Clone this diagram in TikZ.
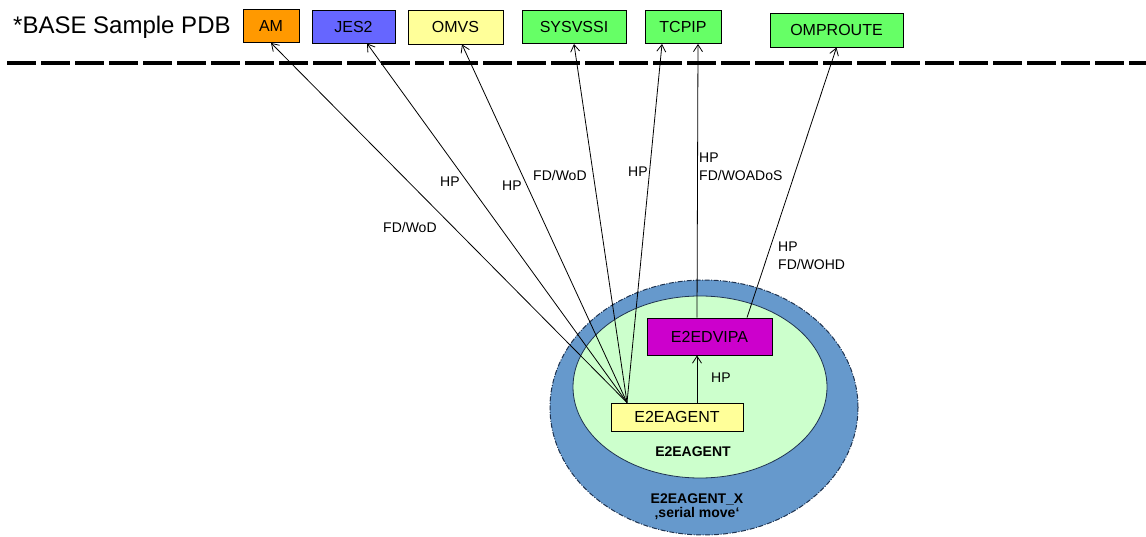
\documentclass[tikz,border=0pt]{standalone}
\usepackage{fontspec}
\setmainfont{Liberation Sans}
\usepackage{xcolor}
\usetikzlibrary{arrows.meta, shapes.geometric}

\definecolor{amorange}{HTML}{FF9900}
\definecolor{jesblue}{HTML}{6666FF}
\definecolor{paleyellow}{HTML}{FFFF99}
\definecolor{boxgreen}{HTML}{66FF66}
\definecolor{vipamagenta}{HTML}{CC00CC}
\definecolor{outerblue}{HTML}{6699CC}
\definecolor{innergreen}{HTML}{CCFFCC}
\definecolor{rimdark}{HTML}{1F3350}

\begin{document}
\begin{tikzpicture}[
        x=1pt, y=-1pt,
        pdbbox/.style={draw, line width=0.9pt, rectangle, inner sep=0pt, font=\fontsize{16}{18}\selectfont},
        lbl/.style={inner sep=0pt, anchor=west, align=left, font=\fontsize{14}{18}\selectfont},
        elbl/.style={inner sep=0pt, align=center, font=\fontsize{14}{14}\selectfont\bfseries},
        arrow/.style={-{Straight Barb[length=7pt, width=9pt]}, line width=0.8pt}
    ]
    \useasboundingbox (0,0) rectangle (1146,537);

    % Header
    \node[inner sep=0pt, anchor=west, font=\fontsize{24}{26}\selectfont] (title) at (13,27) {*BASE Sample PDB};
    \node[pdbbox, fill=amorange, minimum width=56, minimum height=33] (am) at (271,26) {AM};
    \node[pdbbox, fill=jesblue, minimum width=83, minimum height=33] (jes) at (353.5,26.5) {JES2};
    \node[pdbbox, fill=paleyellow, minimum width=95, minimum height=34] (omvs) at (455.5,27) {OMVS};
    \node[pdbbox, fill=boxgreen, minimum width=104, minimum height=33] (sysvssi) at (574,27) {SYSVSSI};
    \node[pdbbox, fill=boxgreen, minimum width=76, minimum height=33] (tcpip) at (683,27) {TCPIP};
    \node[pdbbox, fill=boxgreen, minimum width=133, minimum height=34] (omproute) at (836.5,30) {OMPROUTE};

    \draw[line width=4pt, dash pattern=on 29pt off 5pt] (7,63) -- (1146,63);

    % Ellipses
    \node[ellipse, draw=rimdark, line width=1pt, dash pattern=on 5pt off 1.5pt on 1pt off 1.5pt,
          fill=outerblue, inner sep=0pt, minimum width=308, minimum height=255] (outer) at (704,407.5) {};
    \node[ellipse, draw=rimdark, line width=0.8pt, fill=innergreen, inner sep=0pt,
          minimum width=254, minimum height=182] (inner) at (700,387) {};

    % Inner boxes
    \node[pdbbox, fill=vipamagenta, minimum width=125, minimum height=37] (dvipa) at (709.5,336.5) {E2EDVIPA};
    \node[pdbbox, fill=paleyellow, minimum width=132, minimum height=28] (agent) at (677,417) {E2EAGENT};

    \node[elbl] (agentlbl) at (693,452) {E2EAGENT};
    \node[elbl, font=\fontsize{14}{14}\selectfont\bfseries] (xlbl) at (697,507) {E2EAGENT\_X\\‚serial move‘};

    % Arrows
    \coordinate (src) at ([xshift=-50pt]agent.north);
    \draw[arrow] (src) -- (am.south);
    \draw[arrow] (src) -- ([xshift=13.5pt]jes.south);
    \draw[arrow] (src) -- ([xshift=6.5pt]omvs.south);
    \draw[arrow] (src) -- (sysvssi.south);
    \draw[arrow] (src) -- ([xshift=-21pt]tcpip.south);
    \draw[arrow] ([xshift=-12.5pt]dvipa.north) -- ([xshift=15pt]tcpip.south);
    \draw[arrow] ([xshift=37.5pt]dvipa.north) -- (omproute.south);
    \draw[arrow] ([xshift=20pt]agent.north) -- ([xshift=-12.5pt]dvipa.south);

    % Labels
    \node[lbl] (l1) at (383,227) {FD/WoD};
    \node[lbl] (l2) at (440,182) {HP};
    \node[lbl] (l3) at (502,186) {HP};
    \node[lbl] (l4) at (533,175) {FD/WoD};
    \node[lbl] (l5) at (628,172) {HP};
    \node[lbl] (l6) at (699,167) {HP\\FD/WOADoS};
    \node[lbl] (l7) at (778,256) {HP\\FD/WOHD};
    \node[lbl] (l8) at (711,378) {HP};
\end{tikzpicture}
\end{document}
